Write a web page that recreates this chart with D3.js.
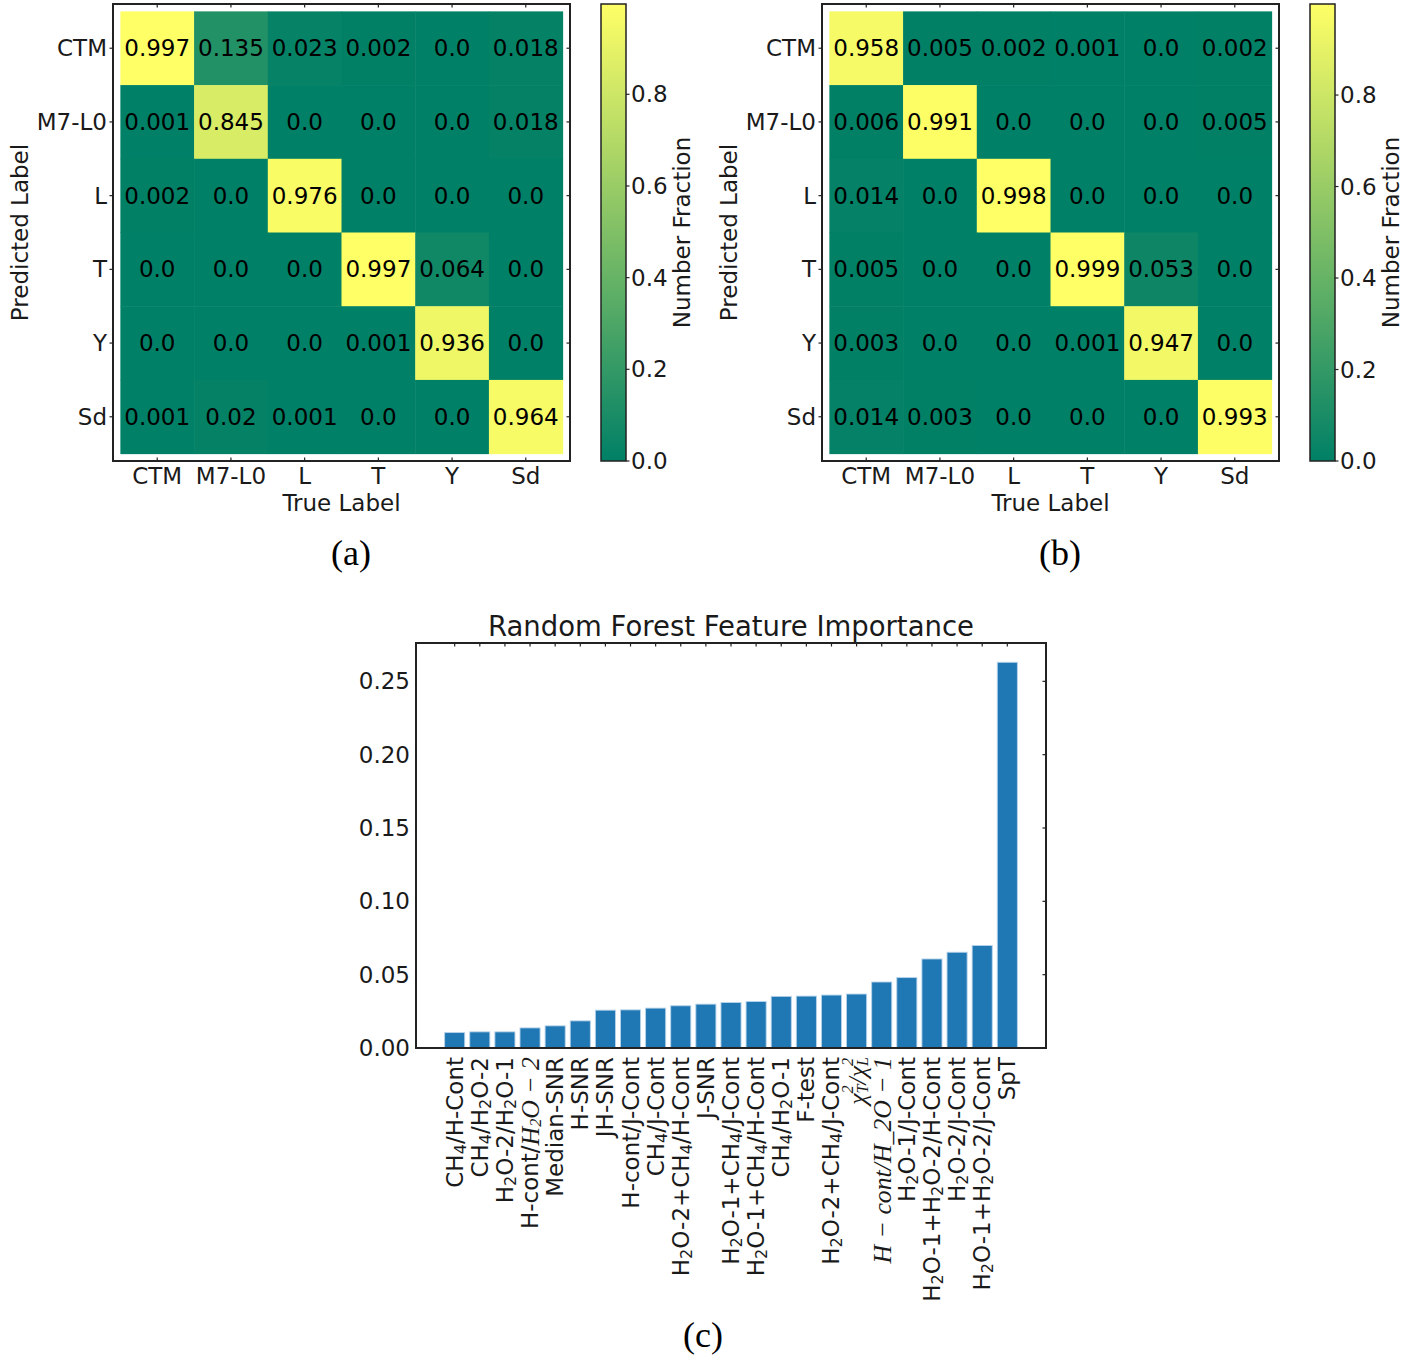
<!DOCTYPE html>
<html><head><meta charset="utf-8">
<script src="https://cdn.jsdelivr.net/npm/d3@7"></script>
<style>body{margin:0;background:#fff;} text{font-family:"DejaVu Sans",sans-serif;}</style>
</head><body>
<svg id="chart" width="1425" height="1357"></svg>
<script>
// ---------- data ----------
const classLabels = ["CTM", "M7-L0", "L", "T", "Y", "Sd"];
const matrixA = [
  [0.997, 0.135, 0.023, 0.002, 0.0, 0.018],
  [0.001, 0.845, 0.0, 0.0, 0.0, 0.018],
  [0.002, 0.0, 0.976, 0.0, 0.0, 0.0],
  [0.0, 0.0, 0.0, 0.997, 0.064, 0.0],
  [0.0, 0.0, 0.0, 0.001, 0.936, 0.0],
  [0.001, 0.02, 0.001, 0.0, 0.0, 0.964]
];
const matrixB = [
  [0.958, 0.005, 0.002, 0.001, 0.0, 0.002],
  [0.006, 0.991, 0.0, 0.0, 0.0, 0.005],
  [0.014, 0.0, 0.998, 0.0, 0.0, 0.0],
  [0.005, 0.0, 0.0, 0.999, 0.053, 0.0],
  [0.003, 0.0, 0.0, 0.001, 0.947, 0.0],
  [0.014, 0.003, 0.0, 0.0, 0.0, 0.993]
];
const colorbarTicks = [0.0, 0.2, 0.4, 0.6, 0.8];
// markup: _x subscript, ^x superscript, $..$ math italic, \x literal
const featureNames = [
  "CH_4/H-Cont", "CH_4/H_2O-2", "H_2O-2/H_2O-1", "H-cont/$H_2O − 2$", "Median-SNR",
  "H-SNR", "JH-SNR", "H-cont/J-Cont", "CH_4/J-Cont", "H_2O-2+CH_4/H-Cont",
  "J-SNR", "H_2O-1+CH_4/J-Cont", "H_2O-1+CH_4/H-Cont", "CH_4/H_2O-1", "F-test",
  "H_2O-2+CH_4/J-Cont", "$χ^2_T/χ^2_L$", "$H − cont/H\\_2O − 1$", "H_2O-1/J-Cont",
  "H_2O-1+H_2O-2/H-Cont", "H_2O-2/J-Cont", "H_2O-1+H_2O-2/J-Cont", "SpT"
];
const featureImportance = [
  0.0105, 0.011, 0.011, 0.0137, 0.0151, 0.0185, 0.0258, 0.026, 0.0272, 0.0288,
  0.0299, 0.031, 0.0317, 0.0352, 0.0354, 0.0361, 0.0368, 0.045, 0.048, 0.0607,
  0.0653, 0.0699, 0.263
];
const barTicks = [0.0, 0.05, 0.10, 0.15, 0.20, 0.25];

// ---------- helpers ----------
const svg = d3.select("#chart");
svg.append("rect").attr("width", 1425).attr("height", 1357).attr("fill", "#fff");
const FS = 23;
const TXT = "#1a1a1a";
const SPINE = "#222";

function summer(t) {
  t = Math.max(0, Math.min(1, t));
  return d3.rgb(255 * t, 255 * (0.5 + 0.5 * t), 102).toString();
}
function fmt(v) { return Number.isInteger(v) ? v.toFixed(1) : String(v); }

function richText(sel, str, size) {
  const segs = [];
  let italic = false, i = 0;
  while (i < str.length) {
    const c = str[i];
    if (c === "$") { italic = !italic; i++; continue; }
    if (c === "\\") { segs.push({ t: str[i + 1], italic, shift: 0 }); i += 2; continue; }
    if (c === "_" || c === "^") { segs.push({ t: str[i + 1], italic, shift: c === "_" ? -1 : 1 }); i += 2; continue; }
    const last = segs[segs.length - 1];
    if (last && last.shift === 0 && last.italic === italic) last.t += c;
    else segs.push({ t: c, italic, shift: 0 });
    i++;
  }
  let prevShift = 0;
  segs.forEach(s => {
    const ts = sel.append("tspan").text(s.t);
    if (s.italic) ts.style("font-family", "'Liberation Serif', serif").style("font-style", "italic").attr("font-size", size * 1.12);
    if (s.shift !== 0) {
      const sub = size * 0.7;
      ts.attr("font-size", sub).attr("baseline-shift", s.shift < 0 ? -size * 0.22 : size * 0.4);
      if (prevShift === 1 && s.shift === -1) ts.attr("dx", -sub * 0.5);
    }
    prevShift = s.shift;
  });
}

// ---------- heatmaps ----------
function heatmap(ox, matrix, caption) {
  const g = svg.append("g");
  const W = 457, top = 4, bottom = 461;
  const x = d3.scaleLinear().domain([-0.6, classLabels.length - 0.4]).range([ox, ox + W]);
  const y = d3.scaleLinear().domain([-0.6, classLabels.length - 0.4]).range([top, bottom]);
  const vmax = d3.max(matrix.flat());
  const cells = [];
  matrix.forEach((row, r) => row.forEach((v, c) => cells.push({ r, c, v })));
  g.selectAll("rect.cell").data(cells).join("rect")
    .attr("x", d => x(d.c - 0.5)).attr("y", d => y(d.r - 0.5))
    .attr("width", x(0.5) - x(-0.5) + 0.5).attr("height", y(0.5) - y(-0.5) + 0.5)
    .attr("fill", d => summer(d.v / vmax));
  g.selectAll("text.val").data(cells).join("text")
    .attr("x", d => x(d.c)).attr("y", d => y(d.r))
    .attr("text-anchor", "middle").attr("dominant-baseline", "central")
    .attr("font-size", FS).attr("fill", "#000").text(d => fmt(d.v));
  // frame
  g.append("rect").attr("x", ox).attr("y", top).attr("width", W).attr("height", bottom - top)
    .attr("fill", "none").attr("stroke", SPINE).attr("stroke-width", 2);
  classLabels.forEach((lab, i) => {
    // left ticks (outward), right ticks (inward)
    g.append("line").attr("x1", ox - 3.5).attr("x2", ox).attr("y1", y(i)).attr("y2", y(i)).attr("stroke", SPINE).attr("stroke-width", 1.2);
    g.append("line").attr("x1", ox + W - 3.5).attr("x2", ox + W).attr("y1", y(i)).attr("y2", y(i)).attr("stroke", SPINE).attr("stroke-width", 1.2);
    g.append("line").attr("x1", x(i)).attr("x2", x(i)).attr("y1", top).attr("y2", top + 3.5).attr("stroke", SPINE).attr("stroke-width", 1.2);
    g.append("line").attr("x1", x(i)).attr("x2", x(i)).attr("y1", bottom - 3.5).attr("y2", bottom).attr("stroke", SPINE).attr("stroke-width", 1.2);
    g.append("text").attr("x", ox - 6).attr("y", y(i)).attr("text-anchor", "end").attr("dominant-baseline", "central")
      .attr("font-size", FS).attr("fill", TXT).text(lab);
    g.append("text").attr("x", x(i)).attr("y", bottom + 23).attr("text-anchor", "middle")
      .attr("font-size", FS).attr("fill", TXT).text(lab);
  });
  g.append("text").attr("x", ox + W / 2).attr("y", 511).attr("text-anchor", "middle")
    .attr("font-size", FS).attr("fill", TXT).text("True Label");
  g.append("text").attr("transform", `translate(${ox - 93},${(top + bottom) / 2}) rotate(-90)`)
    .attr("text-anchor", "middle").attr("dominant-baseline", "central")
    .attr("font-size", FS).attr("fill", TXT).text("Predicted Label");
  // colorbar
  const cx0 = ox + 488, cw = 25;
  const cy = d3.scaleLinear().domain([0, vmax]).range([bottom, top]);
  const gid = "grad" + ox;
  const grad = svg.append("defs").append("linearGradient").attr("id", gid)
    .attr("x1", 0).attr("y1", 1).attr("x2", 0).attr("y2", 0);
  d3.range(0, 1.001, 0.1).forEach(t => grad.append("stop").attr("offset", t).attr("stop-color", summer(t)));
  g.append("rect").attr("x", cx0).attr("y", top).attr("width", cw).attr("height", bottom - top)
    .attr("fill", `url(#${gid})`).attr("stroke", SPINE).attr("stroke-width", 1.5);
  colorbarTicks.forEach(t => {
    g.append("line").attr("x1", cx0 + cw).attr("x2", cx0 + cw + 3.5).attr("y1", cy(t)).attr("y2", cy(t)).attr("stroke", SPINE).attr("stroke-width", 1.2);
    g.append("text").attr("x", cx0 + cw + 5).attr("y", cy(t)).attr("dominant-baseline", "central")
      .attr("font-size", FS).attr("fill", TXT).text(t.toFixed(1));
  });
  g.append("text").attr("transform", `translate(${ox + 569},${(top + bottom) / 2}) rotate(-90)`)
    .attr("text-anchor", "middle").attr("dominant-baseline", "central")
    .attr("font-size", FS).attr("fill", TXT).text("Number Fraction");
  g.append("text").attr("x", ox + 238).attr("y", 553).attr("text-anchor", "middle").attr("dominant-baseline", "central")
    .style("font-family", "'Liberation Serif', serif").attr("font-size", 36).attr("fill", "#000").text(caption);
}
heatmap(113, matrixA, "(a)");
heatmap(822, matrixB, "(b)");

// ---------- bar chart ----------
(function () {
  const L = 416, R = 1046, T = 643, B = 1048;
  const n = featureImportance.length;
  const span = (n - 1) + 0.8;
  const x = d3.scaleLinear().domain([-0.4 - 0.05 * span, n - 1 + 0.4 + 0.05 * span]).range([L, R]);
  const y = d3.scaleLinear().domain([0, d3.max(featureImportance) * 1.05]).range([B, T]);
  const g = svg.append("g");
  const bw = x(0.8) - x(0);
  g.selectAll("rect.bar").data(featureImportance).join("rect")
    .attr("x", (d, i) => x(i) - bw / 2).attr("y", d => y(d))
    .attr("width", bw).attr("height", d => B - y(d))
    .attr("fill", "#1f77b4").attr("stroke", "#b7d3ea").attr("stroke-width", 0.9);
  g.append("rect").attr("x", L).attr("y", T).attr("width", R - L).attr("height", B - T)
    .attr("fill", "none").attr("stroke", SPINE).attr("stroke-width", 2);
  barTicks.forEach(t => {
    g.append("line").attr("x1", R - 3.5).attr("x2", R).attr("y1", y(t)).attr("y2", y(t)).attr("stroke", SPINE).attr("stroke-width", 1.2);
    g.append("text").attr("x", L - 6).attr("y", y(t)).attr("text-anchor", "end").attr("dominant-baseline", "central")
      .attr("font-size", FS).attr("fill", TXT).text(t.toFixed(2));
  });
  featureNames.forEach((name, i) => {
    g.append("line").attr("x1", x(i)).attr("x2", x(i)).attr("y1", T).attr("y2", T + 3.5).attr("stroke", SPINE).attr("stroke-width", 1.2);
    const t = g.append("text").attr("transform", `translate(${x(i)},${B + 9}) rotate(-90)`)
      .attr("text-anchor", "end").attr("dominant-baseline", "central")
      .attr("font-size", FS).attr("fill", TXT);
    richText(t, name, FS);
  });
  g.append("text").attr("x", (L + R) / 2).attr("y", 636).attr("text-anchor", "middle")
    .attr("font-size", 27.5).attr("fill", TXT).text("Random Forest Feature Importance");
  g.append("text").attr("x", 703).attr("y", 1335).attr("text-anchor", "middle").attr("dominant-baseline", "central")
    .style("font-family", "'Liberation Serif', serif").attr("font-size", 36).attr("fill", "#000").text("(c)");
})();
</script>
</body></html>
